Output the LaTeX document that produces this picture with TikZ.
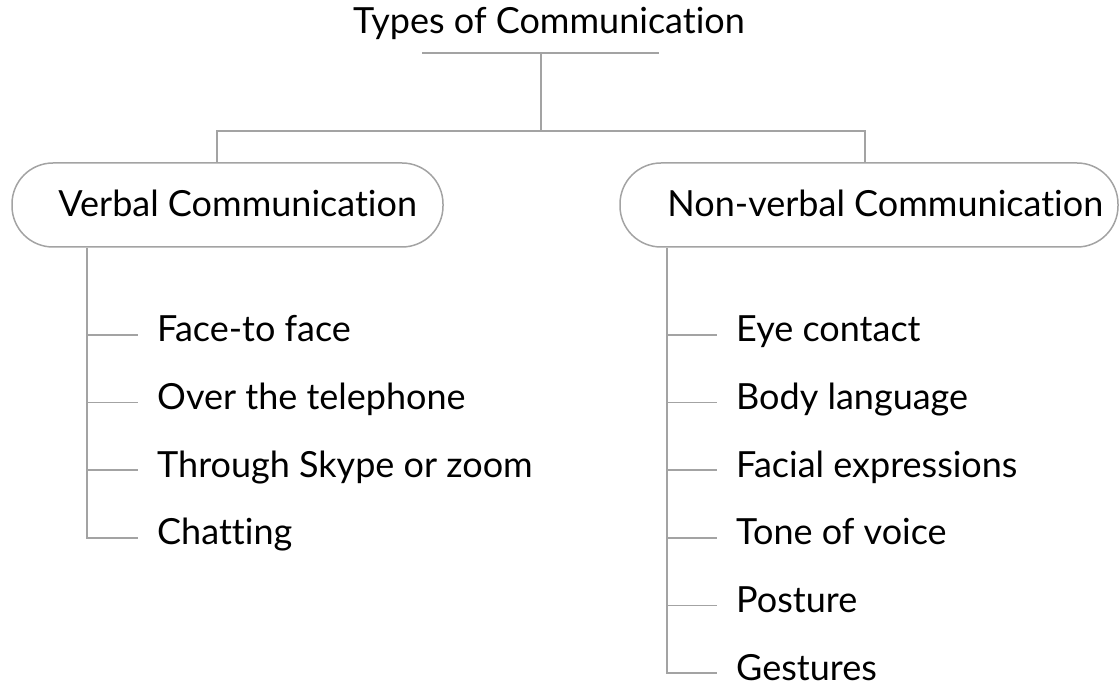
\documentclass[tikz,border=0pt]{standalone}
\usepackage{fontspec}
\setmainfont{Lato}[Ligatures=NoCommon]
\usetikzlibrary{positioning}
\usepackage{xcolor}
\definecolor{linegray}{HTML}{A3A3A3}

\begin{document}
\begin{tikzpicture}[x=1pt, y=-1pt,
      link/.style={draw=linegray, line width=1.6pt},
      branch/.style={draw=linegray, line width=1.5pt, rounded corners=41pt, minimum height=84pt, inner sep=0pt},
      label/.style={anchor=west, inner sep=0pt, text height=27pt, text depth=9pt, font=\fontsize{36}{43}\selectfont},
      item/.style={label}
    ]
      \useasboundingbox (0,0) rectangle (1120,692);
      % top
      \node[label, anchor=center] (title) at (549,25) {Types of Communication};
      \coordinate (ulL) at (422,53);
      \coordinate (ulR) at (659,53);
      \coordinate (ul) at (541,53);
      \coordinate (fork) at (541,131);
      \draw[link] (ulL) -- (ulR);
      \draw[link] (ul) -- (fork);
      % the two kinds
      \node[branch, minimum width=431pt] (vbox) at (227.5,205) {};
      \node[label] (verbal) at ([xshift=47pt,yshift=-3pt]vbox.west) {Verbal Communication};
      \node[branch, minimum width=498pt] (nvbox) at (869,205) {};
      \node[label] (nonverbal) at ([xshift=48pt,yshift=-3pt]nvbox.west) {Non-verbal Communication};
      \draw[link] (fork) -| ([xshift=-10.5pt]vbox.north);
      \draw[link] (fork) -| ([xshift=-4pt]nvbox.north);
      % verbal list
      \foreach \txt [count=\i] in {Face-to face, Over the telephone, Through Skype or zoom, Chatting} {
        \node[item] (v\i) at (157, 265.4+67.6*\i) {\txt};
        \draw[link] ([xshift=-69pt,yshift=-2pt]v\i.west) -- ([xshift=-19pt,yshift=-2pt]v\i.west);
      }
      \draw[link] ([xshift=76pt]vbox.south west) |- ([xshift=-19pt,yshift=-2pt]v4.west);
      % non-verbal list
      \foreach \txt [count=\i] in {Eye contact, Body language, Facial expressions, Tone of voice, Posture, Gestures} {
        \node[item] (n\i) at (736, 265.4+67.6*\i) {\txt};
        \draw[link] ([xshift=-69pt,yshift=-2pt]n\i.west) -- ([xshift=-19pt,yshift=-2pt]n\i.west);
      }
      \draw[link] ([xshift=48pt]nvbox.south west) |- ([xshift=-19pt,yshift=-2pt]n6.west);
    \end{tikzpicture}
\end{document}
